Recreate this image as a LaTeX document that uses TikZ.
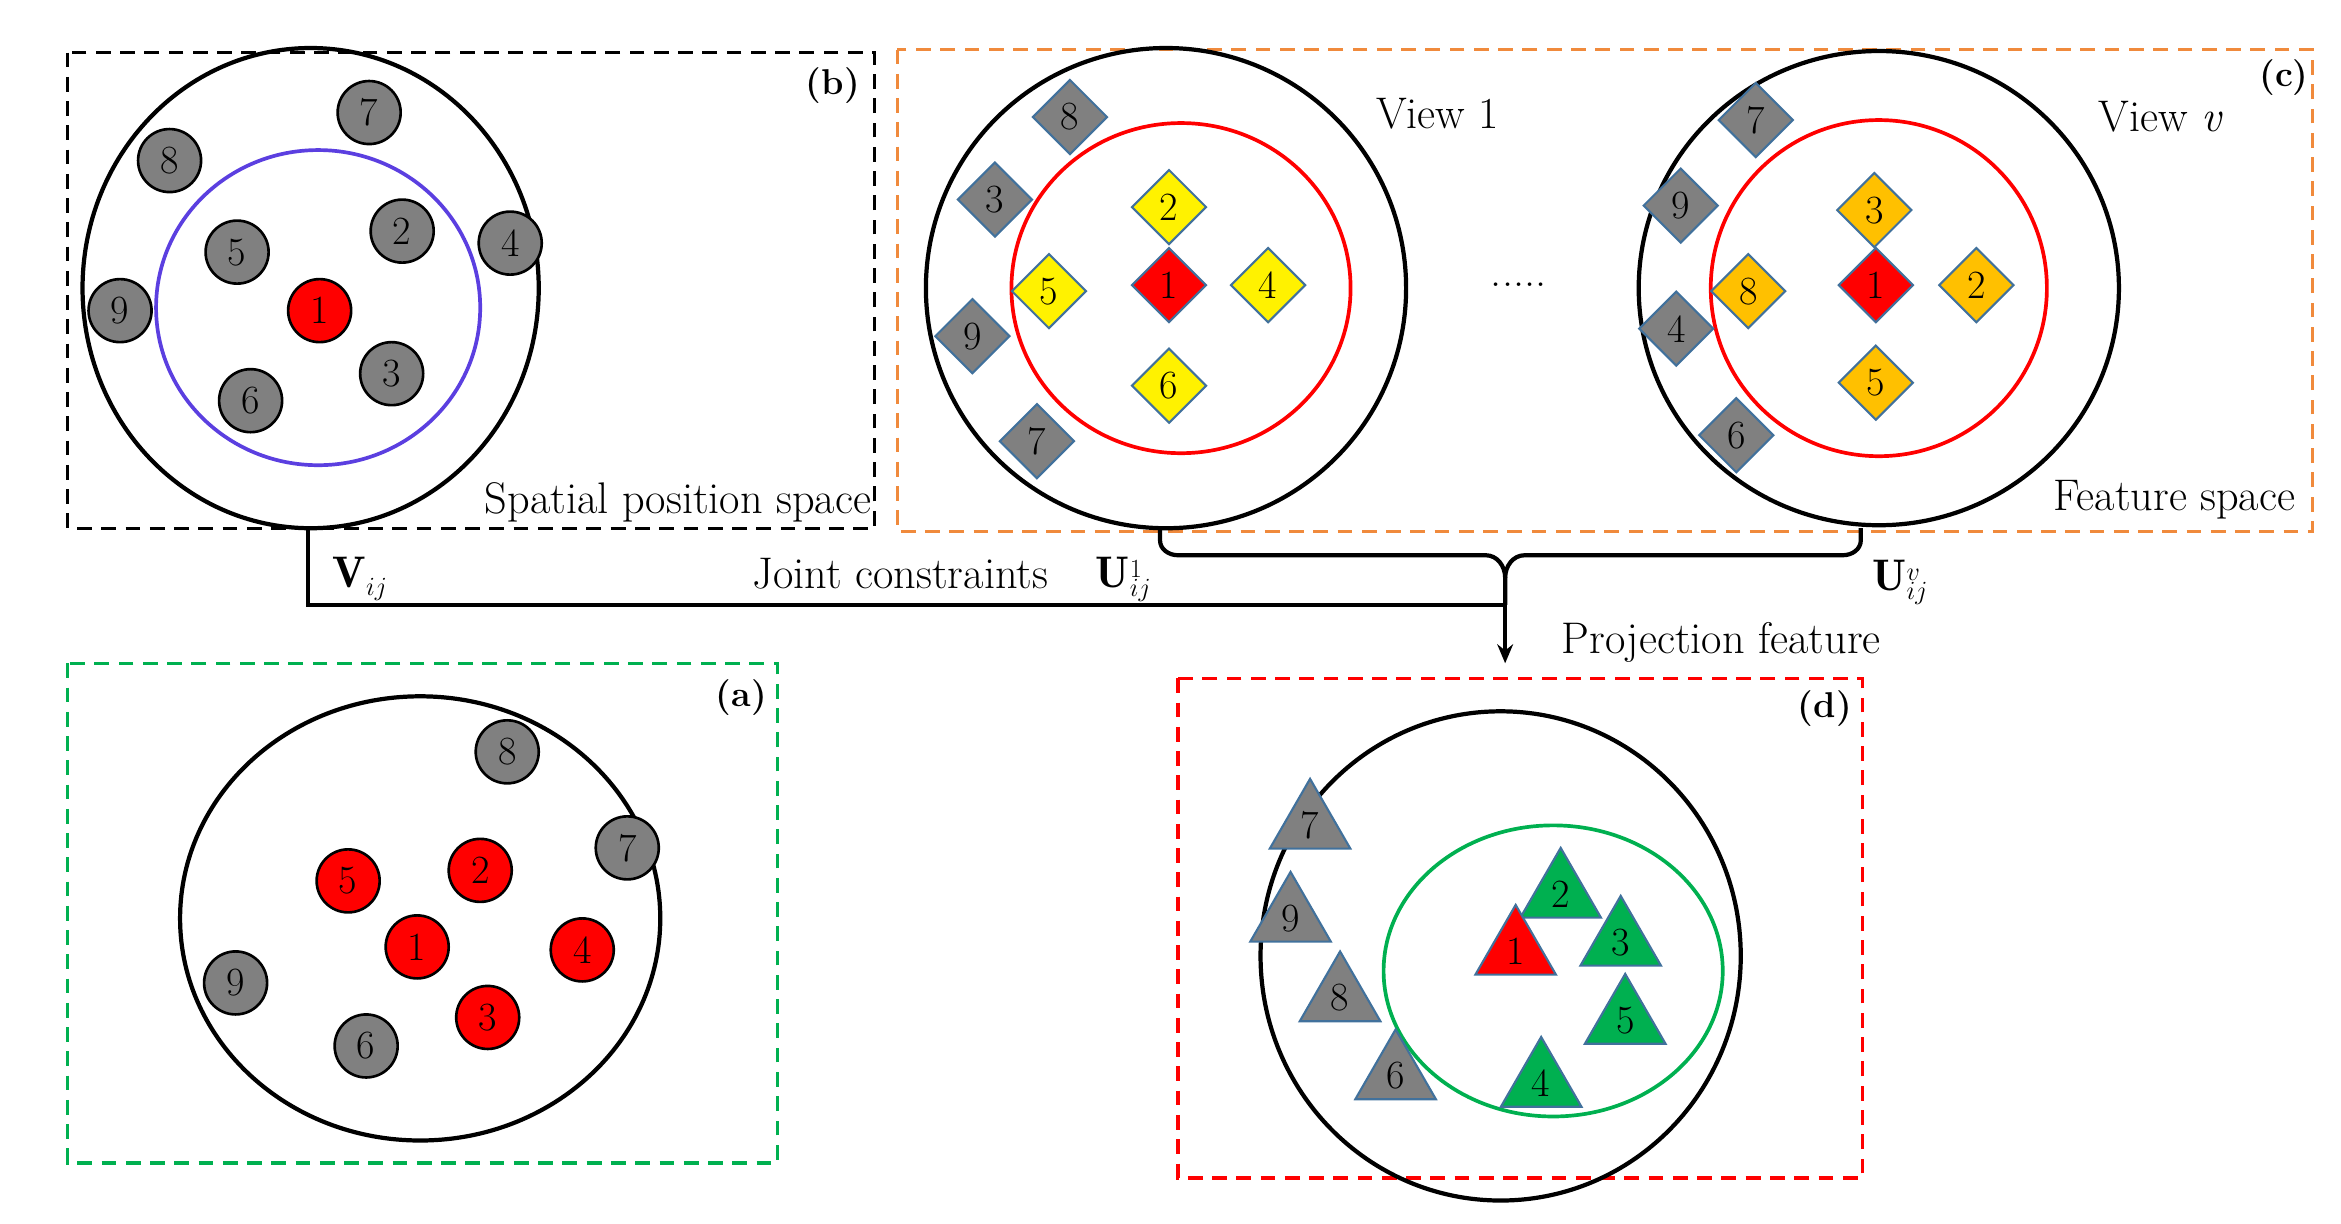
\documentclass[tikz,border=0pt]{standalone}
\usepackage{fontspec}
\usetikzlibrary{shapes.geometric,arrows.meta}
\definecolor{gr}{HTML}{808080}
\definecolor{edg}{HTML}{41719C}
\definecolor{orng}{HTML}{FFC000}
\definecolor{grn}{HTML}{00B050}
\definecolor{boxo}{HTML}{F08A3C}
\definecolor{blu}{HTML}{5B3FE0}
\begin{document}
\begin{tikzpicture}[x=0.05cm,y=-0.05cm,
  every node/.style={font=\fontsize{38}{42}\selectfont},
  box/.style={draw,dashed,line width=3pt,dash pattern=on 14pt off 9pt},
  big/.style={draw,line width=4pt},
  ball/.style={circle,draw,line width=2.5pt,minimum size=42*0.05cm,inner sep=0pt},
  dia/.style={diamond,draw=edg,line width=2pt,minimum size=50*0.05cm,inner sep=0pt},
  tri/.style={regular polygon,regular polygon sides=3,draw=edg,line width=2pt,minimum size=62*0.05cm,inner sep=0pt},
  lab/.style={font=\fontsize{42}{48}\selectfont},
  tag/.style={font=\fontsize{34}{38}\selectfont\bfseries},
  con/.style={line width=4pt}]
\useasboundingbox (0,0) rectangle (1560,815);
% (b)
\draw[box] (45,35) rectangle (583,352);
\node[tag] at (555,57) {(b)};
\draw[big] (207,192) ellipse [x radius=152*0.05cm, y radius=160*0.05cm];
\draw[blu,line width=3.5pt] (212,205) ellipse [x radius=108*0.05cm, y radius=105*0.05cm];
\foreach \n/\x/\y in {7/246/75,8/113/107,5/158/168,2/268/154,4/340/162,9/80/207,6/167/267,3/261/249}
  \node[ball,fill=gr] (b\n) at (\x,\y) {\n};
\node[ball,fill=red] (b1) at (213,207) {1};
\node[lab,anchor=east] (sps) at (583,335) {Spatial position space};
\coordinate (bb) at (205,352);
% (c)
\draw[box,boxo] (598,33) rectangle (1541,354);
\node[tag] at (1522,52) {(c)};
\draw[big] (777,192) ellipse [x radius=160*0.05cm, y radius=160*0.05cm];
\draw[red,line width=3.5pt] (787,192) ellipse [x radius=113*0.05cm, y radius=110*0.05cm];
\foreach \n/\x/\y in {8/713/78,3/663/133,9/648/224,7/691/294}
  \node[dia,fill=gr] (c\n) at (\x,\y) {\n};
\foreach \n/\x/\y in {2/779/138,5/699/194,4/845/190,6/779/257}
  \node[dia,fill=yellow] (c\n) at (\x,\y) {\n};
\node[dia,fill=red] (c1) at (779,190) {1};
\node[lab] at (958,76) {View 1};
\node[lab] at (1012,190) {.....};
\draw[big] (1252,192) ellipse [x radius=160*0.05cm, y radius=158*0.05cm];
\draw[red,line width=3.5pt] (1252,192) ellipse [x radius=112*0.05cm, y radius=112*0.05cm];
\foreach \n/\x/\y in {7/1170/80,9/1120/137,4/1117/219,6/1157/290}
  \node[dia,fill=gr] (v\n) at (\x,\y) {\n};
\foreach \n/\x/\y in {3/1249/140,8/1165/194,2/1317/190,5/1250/255}
  \node[dia,fill=orng] (v\n) at (\x,\y) {\n};
\node[dia,fill=red] (v1) at (1250,190) {1};
\node[lab] at (1440,78) {View \textit{v}};
\node[lab,anchor=east] at (1532,333) {Feature space};
% connectors
\coordinate (u1) at (773,352);
\coordinate (uv) at (1240,352);
\coordinate (mid) at (1003,403);
\coordinate (pt) at (1003,442);
\draw[con] (bb) -- (205,403) -- (mid);
\draw[con] (u1) -- (773,360) to[out=-90,in=180] (785,370) -- (990,370) to[out=0,in=90] (1003,385) -- (mid);
\draw[con] (uv) -- (1240,360) to[out=-90,in=0] (1228,370) -- (1016,370) to[out=180,in=90] (1003,385);
\draw[con,-{Stealth[length=18pt,width=15pt]}] (mid) -- (pt);
\node[lab] at (240,386) {$\mathbf{V}_{ij}$};
\node[lab] at (600,382) {Joint constraints};
\node[lab,anchor=east,inner sep=1pt] at (768,386) {$\mathbf{U}_{ij}^{1}$};
\node[lab,anchor=west,inner sep=1pt] at (1247,388) {$\mathbf{U}_{ij}^{v}$};
\node[lab] at (1147,428) {Projection feature};
% (a)
\draw[box,grn] (45,442) rectangle (518,775);
\node[tag] at (494,465) {(a)};
\draw[big] (280,612) ellipse [x radius=160*0.05cm, y radius=148*0.05cm];
\foreach \n/\x/\y in {8/338/501,7/418/565,9/157/655,6/244/697}
  \node[ball,fill=gr] (a\n) at (\x,\y) {\n};
\foreach \n/\x/\y in {5/232/587,2/320/580,1/278/631,4/388/633,3/325/678}
  \node[ball,fill=red] (a\n) at (\x,\y) {\n};
% (d)
\draw[box,red] (785,452) rectangle (1241,785);
\node[tag] at (1216,472) {(d)};
\draw[big] (1000,637) ellipse [x radius=160*0.05cm, y radius=163*0.05cm];
\draw[grn,line width=3.5pt] (1035,647) ellipse [x radius=113*0.05cm, y radius=97*0.05cm];
\foreach \n/\x/\y in {7/873/550,9/860/612,8/893/665,6/930/717}
  \node[tri,fill=gr] (d\n) at (\x,\y) {\n};
\foreach \n/\x/\y in {2/1040/596,3/1080/628,5/1083/680,4/1027/722}
  \node[tri,fill=grn] (d\n) at (\x,\y) {\n};
\node[tri,fill=red] (d1) at (1010,634) {1};
\end{tikzpicture}
\end{document}
